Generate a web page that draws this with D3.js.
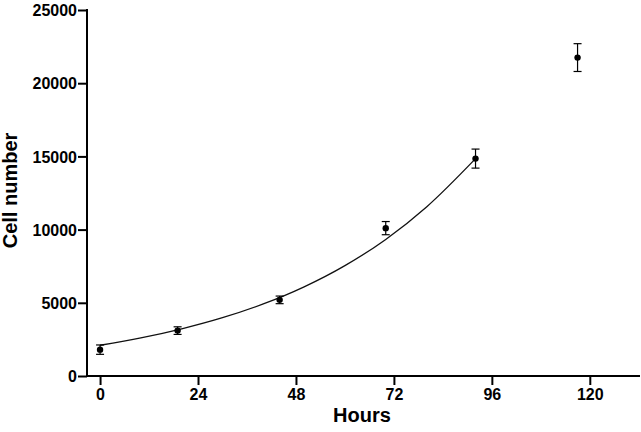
<!DOCTYPE html>
<html>
<head>
<meta charset="utf-8">
<script src="https://cdn.jsdelivr.net/npm/d3@7"></script>
<style>
  html, body { margin: 0; padding: 0; background: #fff; }
  svg { display: block; }
  text { font-family: "Liberation Sans", Arial, Helvetica, sans-serif; font-weight: bold; fill: #000; }
</style>
</head>
<body>
<svg id="chart" width="641" height="432"></svg>
<script>
// Measured data (hours, mean cell number, error)
const hours = [0, 19, 44, 70, 92, 117];
const cellMeans = [1800, 3100, 5200, 10100, 14850, 21750];
const cellErrors = [320, 260, 260, 450, 650, 950];

// Fitted growth curve
const fitHours = [0, 10, 20, 30, 40, 50, 60, 70, 80, 92];
const fitCells = [2100, 2600, 3220, 3980, 4920, 6090, 7540, 9330, 11550, 14850];

// Tick labels
const xMajorTicks = [0, 24, 48, 72, 96, 120];
const xMinorTicks = [12, 36, 60, 84, 108, 132];
const yMajorTicks = [0, 5000, 10000, 15000, 20000, 25000];
const yMinorTicks = [2500, 7500, 12500, 17500, 22500];

const svg = d3.select("#chart");
const x = d3.scaleLinear().domain([-3.2, 132.3]).range([87, 640]);
const y = d3.scaleLinear().domain([0, 25000]).range([376, 10]);

// Y axis
const yAxisG = svg.append("g").attr("transform", `translate(${x(-3.2)},0)`);
yAxisG.call(d3.axisLeft(y).tickValues(yMinorTicks).tickSize(5).tickSizeOuter(0).tickFormat(""));
yAxisG.call(d3.axisLeft(y).tickValues(yMajorTicks).tickSize(9).tickSizeOuter(0).tickPadding(1).tickFormat(d3.format("d")));
yAxisG.selectAll("path.domain").remove();
yAxisG.append("line").attr("x1", 0).attr("x2", 0).attr("y1", y(25000) - 1).attr("y2", y(0) + 1)
  .attr("stroke", "#000").attr("stroke-width", 2);
yAxisG.selectAll(".tick line").attr("stroke", "#000").attr("stroke-width", 2);
yAxisG.selectAll(".tick text").style("font-size", "16px").attr("dy", "0.36em");

// X axis
const xAxisG = svg.append("g").attr("transform", `translate(0,${y(0)})`);
xAxisG.call(d3.axisBottom(x).tickValues(xMinorTicks).tickSize(5).tickSizeOuter(0).tickFormat(""));
xAxisG.call(d3.axisBottom(x).tickValues(xMajorTicks).tickSize(9).tickSizeOuter(0).tickPadding(4).tickFormat(d3.format("d")));
xAxisG.selectAll("path.domain").remove();
xAxisG.append("line").attr("x1", x(-3.2) - 1).attr("x2", x(132.3)).attr("y1", 0).attr("y2", 0)
  .attr("stroke", "#000").attr("stroke-width", 2);
xAxisG.selectAll(".tick line").attr("stroke", "#000").attr("stroke-width", 2);
xAxisG.selectAll(".tick text").style("font-size", "16px");

// Axis titles
svg.append("text").attr("transform", "translate(17,190.5) rotate(-90)")
  .attr("text-anchor", "middle").style("font-size", "20px").text("Cell number");
svg.append("text").attr("x", 362).attr("y", 422)
  .attr("text-anchor", "middle").style("font-size", "20px").text("Hours");

// Fit curve
const line = d3.line().x((d, i) => x(fitHours[i])).y(d => y(d)).curve(d3.curveMonotoneX);
svg.append("path").datum(fitCells).attr("d", line)
  .attr("fill", "none").attr("stroke", "#111").attr("stroke-width", 1.3);

// Error bars and points
const pts = hours.map((h, i) => ({ h, m: cellMeans[i], e: cellErrors[i] }));
const g = svg.append("g");
const eb = g.selectAll("g.eb").data(pts).enter().append("g").attr("class", "eb");
eb.append("line").attr("x1", d => x(d.h)).attr("x2", d => x(d.h))
  .attr("y1", d => y(d.m - d.e)).attr("y2", d => y(d.m + d.e))
  .attr("stroke", "#000").attr("stroke-width", 1.2);
eb.append("line").attr("x1", d => x(d.h) - 4).attr("x2", d => x(d.h) + 4)
  .attr("y1", d => y(d.m + d.e)).attr("y2", d => y(d.m + d.e))
  .attr("stroke", "#000").attr("stroke-width", 1.2);
eb.append("line").attr("x1", d => x(d.h) - 4).attr("x2", d => x(d.h) + 4)
  .attr("y1", d => y(d.m - d.e)).attr("y2", d => y(d.m - d.e))
  .attr("stroke", "#000").attr("stroke-width", 1.2);
eb.append("circle").attr("cx", d => x(d.h)).attr("cy", d => y(d.m)).attr("r", 3.2)
  .attr("fill", "#000");
</script>
</body>
</html>
